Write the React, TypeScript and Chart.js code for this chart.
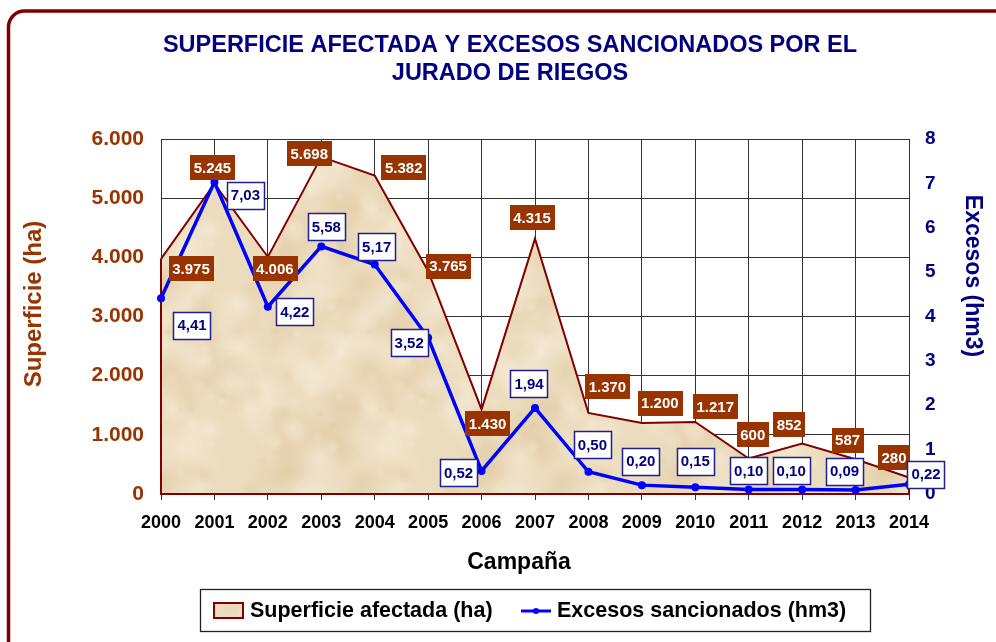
import React, { useEffect, useRef } from "react";
import { Chart, registerables } from "chart.js";

Chart.register(...registerables);

const years = ["2000", "2001", "2002", "2003", "2004", "2005", "2006", "2007", "2008", "2009", "2010", "2011", "2012", "2013", "2014"];
const superficieHa = [3975, 5245, 4006, 5698, 5382, 3765, 1430, 4315, 1370, 1200, 1217, 600, 852, 587, 280];
const excesosHm3 = [4.41, 7.03, 4.22, 5.58, 5.17, 3.52, 0.52, 1.94, 0.5, 0.2, 0.15, 0.1, 0.1, 0.09, 0.22];

const titleLines = ["SUPERFICIE AFECTADA Y EXCESOS SANCIONADOS POR EL", "JURADO DE RIEGOS"];
const leftAxisTitle = "Superficie (ha)";
const rightAxisTitle = "Excesos (hm3)";
const xAxisTitle = "Campaña";
const legendLabels = ["Superficie afectada (ha)", "Excesos sancionados (hm3)"];

// label offsets (relative to each point), style only
const areaLabelDx = [30, -2, 7, -12, 29, 20, 6, -3, 19, 18, 20, 4, -13, -8, -15];
const areaLabelDy = [10, -16, 12, -3, -8, -5, 14, -21, -26, -20, -15, -24, -19, -19, -20];
const lineLabelDx = [31, 31, 27, 5, 2, -19, -23, -6, 4, -1, 0, 0, -11, -11, 17];
const lineLabelDy = [27, 13, 5, -20, -18, 5, 2, -24, -27, -24, -26, -19, -19, -19, -10];

const FONT = "'Liberation Sans', Arial, Helvetica, sans-serif";
const BROWN = "#993300";
const NAVY = "#000080";
const DARKRED = "#800000";

function fmtThousands(v: number): string {
  return String(Math.round(v)).replace(/\B(?=(\d{3})+(?!\d))/g, ".");
}
function fmtDec(v: number): string {
  return v.toFixed(2).replace(".", ",");
}

function frac(x: number): number {
  return x - Math.floor(x);
}

function makeParchment(): CanvasPattern | string {
  const S = 200;
  const c = document.createElement("canvas");
  c.width = S;
  c.height = S;
  const g = c.getContext("2d");
  if (!g) return "#ECDCBE";
  g.fillStyle = "#ECDCBE";
  g.fillRect(0, 0, S, S);
  for (let i = 0; i < 140; i++) {
    const x = frac(Math.sin(i * 12.9898 + 1.3) * 43758.5453) * S;
    const y = frac(Math.sin(i * 78.233 + 4.1) * 24634.6345) * S;
    const r = 5 + frac(Math.sin(i * 39.425) * 9631.17) * 22;
    const dark = i % 2 === 0;
    for (const ox of [-S, 0, S]) {
      for (const oy of [-S, 0, S]) {
        const gr = g.createRadialGradient(x + ox, y + oy, 0, x + ox, y + oy, r);
        gr.addColorStop(0, dark ? "rgba(218,194,150,0.28)" : "rgba(248,240,222,0.4)");
        gr.addColorStop(1, dark ? "rgba(218,194,150,0)" : "rgba(248,240,222,0)");
        g.fillStyle = gr;
        g.fillRect(x + ox - r, y + oy - r, r * 2, r * 2);
      }
    }
  }
  const p = g.createPattern(c, "repeat");
  return p || "#ECDCBE";
}

export default function App() {
  const ref = useRef<HTMLCanvasElement | null>(null);

  useEffect(() => {
    const canvas = ref.current;
    if (!canvas) return;
    const parchment = makeParchment();

    const edgePlugin = {
      id: "areaEdges",
      afterDatasetDraw(chart: any, args: any) {
        if (args.index !== 1) return;
        const meta = chart.getDatasetMeta(1);
        const pts = meta.data;
        const ctx = chart.ctx;
        const bottom = chart.scales.y.getPixelForValue(0);
        ctx.save();
        ctx.strokeStyle = DARKRED;
        ctx.lineWidth = 2;
        ctx.beginPath();
        ctx.moveTo(pts[0].x, pts[0].y);
        ctx.lineTo(pts[0].x, bottom);
        ctx.lineTo(pts[pts.length - 1].x, bottom);
        ctx.lineTo(pts[pts.length - 1].x, pts[pts.length - 1].y);
        ctx.stroke();
        ctx.restore();
      },
    };

    const labelPlugin = {
      id: "pointLabels",
      afterDatasetsDraw(chart: any) {
        const ctx = chart.ctx;
        ctx.save();
        ctx.font = `bold 15px ${FONT}`;
        ctx.textAlign = "center";
        ctx.textBaseline = "middle";
        const areaMeta = chart.getDatasetMeta(1);
        areaMeta.data.forEach((pt: any, i: number) => {
          const t = fmtThousands(superficieHa[i]);
          const w = ctx.measureText(t).width + 7;
          const h = 25;
          const cx = pt.x + areaLabelDx[i];
          const cy = pt.y + areaLabelDy[i];
          ctx.fillStyle = BROWN;
          ctx.fillRect(Math.round(cx - w / 2), Math.round(cy - h / 2), Math.round(w), h);
          ctx.fillStyle = "#FFFFFF";
          ctx.fillText(t, cx, cy + 1);
        });
        const lineMeta = chart.getDatasetMeta(0);
        lineMeta.data.forEach((pt: any, i: number) => {
          const t = fmtDec(excesosHm3[i]);
          const w = ctx.measureText(t).width + 8;
          const h = 27;
          const cx = pt.x + lineLabelDx[i];
          const cy = pt.y + lineLabelDy[i];
          const x0 = Math.round(cx - w / 2) + 0.5;
          const y0 = Math.round(cy - h / 2) + 0.5;
          ctx.fillStyle = "#FFFFFF";
          ctx.fillRect(x0, y0, Math.round(w), h);
          ctx.strokeStyle = "#1F1F8F";
          ctx.lineWidth = 1.5;
          ctx.strokeRect(x0, y0, Math.round(w), h);
          ctx.fillStyle = NAVY;
          ctx.fillText(t, cx, cy + 1);
        });
        ctx.restore();
      },
    };

    const decorPlugin = {
      id: "decor",
      afterDraw(chart: any) {
        const ctx = chart.ctx;
        ctx.save();
        // outer rounded frame
        ctx.strokeStyle = DARKRED;
        ctx.lineWidth = 3.5;
        ctx.beginPath();
        (ctx as any).roundRect(8.5, 11, 1010, 660, 16);
        ctx.stroke();

        // title
        ctx.fillStyle = NAVY;
        ctx.font = `bold 23.5px ${FONT}`;
        ctx.textAlign = "center";
        ctx.textBaseline = "middle";
        ctx.fillText(titleLines[0], 510, 46);
        ctx.fillText(titleLines[1], 510, 74);

        // axis titles
        ctx.fillStyle = BROWN;
        ctx.font = `bold 24px ${FONT}`;
        ctx.save();
        ctx.translate(34, 304);
        ctx.rotate(-Math.PI / 2);
        ctx.fillText(leftAxisTitle, 0, 0);
        ctx.restore();

        ctx.fillStyle = NAVY;
        ctx.font = `bold 23px ${FONT}`;
        ctx.save();
        ctx.translate(972, 276);
        ctx.rotate(Math.PI / 2);
        ctx.fillText(rightAxisTitle, 0, 0);
        ctx.restore();

        ctx.fillStyle = "#000000";
        ctx.font = `bold 23px ${FONT}`;
        ctx.fillText(xAxisTitle, 519, 563);

        // legend
        ctx.fillStyle = "#FFFFFF";
        ctx.fillRect(200, 589, 670, 42);
        ctx.strokeStyle = "#222222";
        ctx.lineWidth = 1.3;
        ctx.strokeRect(200.5, 589.5, 670, 42);

        ctx.fillStyle = parchment as any;
        ctx.fillRect(214, 603, 29, 15);
        ctx.strokeStyle = DARKRED;
        ctx.lineWidth = 2;
        ctx.strokeRect(214, 603, 29, 15);

        ctx.fillStyle = "#000000";
        ctx.font = `bold 21.5px ${FONT}`;
        ctx.textAlign = "left";
        ctx.fillText(legendLabels[0], 250, 611);

        ctx.strokeStyle = "#0000FF";
        ctx.lineWidth = 3;
        ctx.beginPath();
        ctx.moveTo(521, 611);
        ctx.lineTo(551, 611);
        ctx.stroke();
        ctx.fillStyle = "#0000FF";
        ctx.beginPath();
        ctx.arc(536, 611, 3, 0, Math.PI * 2);
        ctx.fill();

        ctx.fillStyle = "#000000";
        ctx.fillText(legendLabels[1], 557, 611);
        ctx.restore();
      },
    };

    const chart = new Chart(canvas, {
      type: "line",
      data: {
        labels: years,
        datasets: [
          {
            label: legendLabels[1],
            data: excesosHm3,
            yAxisID: "y1",
            borderColor: "#0000FF",
            backgroundColor: "#0000FF",
            borderWidth: 3.5,
            pointRadius: 4,
            pointBackgroundColor: "#0000FF",
            pointBorderColor: "#0000FF",
            pointBorderWidth: 0,
            tension: 0,
            fill: false,
            clip: false as any,
            order: 0,
          },
          {
            label: legendLabels[0],
            data: superficieHa,
            yAxisID: "y",
            borderColor: DARKRED,
            backgroundColor: parchment as any,
            borderWidth: 2,
            pointRadius: 0,
            tension: 0,
            fill: "origin",
            order: 1,
          },
        ],
      },
      options: {
        responsive: false,
        animation: false,
        layout: { padding: { top: 139, left: 0, right: 0, bottom: 0 } },
        plugins: {
          legend: { display: false },
          title: { display: false },
          tooltip: { enabled: false },
        },
        scales: {
          x: {
            type: "category",
            offset: false,
            grid: { color: "#333333", lineWidth: 1, drawTicks: true, tickLength: 6 },
            border: { color: "#333333" },
            ticks: {
              color: "#000000",
              font: { family: FONT, size: 18, weight: "bold" },
              padding: 12,
              maxRotation: 0,
              autoSkip: false,
            },
            afterFit: (s: any) => {
              s.height = 148;
            },
          },
          y: {
            position: "left",
            min: 0,
            max: 6000,
            ticks: {
              stepSize: 1000,
              color: BROWN,
              font: { family: FONT, size: 21, weight: "bold" },
              padding: 17,
              callback: (v: any) => fmtThousands(Number(v)),
            },
            grid: { color: "#333333", lineWidth: 1, drawTicks: false },
            border: { color: "#333333" },
            afterFit: (s: any) => {
              s.width = 161;
            },
          },
          y1: {
            position: "right",
            min: 0,
            max: 8,
            ticks: {
              stepSize: 1,
              color: NAVY,
              font: { family: FONT, size: 19, weight: "bold" },
              padding: 16,
            },
            grid: { display: false, drawOnChartArea: false, drawTicks: false },
            border: { display: true, color: "#333333" },
            afterFit: (s: any) => {
              s.width = 87;
            },
          },
        },
      } as any,
      plugins: [edgePlugin, labelPlugin, decorPlugin],
    });

    return () => {
      chart.destroy();
    };
  }, []);

  return (
    <div style={{ position: "absolute", left: 0, top: 0, width: 996, height: 642, background: "#FFFFFF" }}>
      <canvas ref={ref} width={996} height={642} style={{ display: "block", width: 996, height: 642 }} />
    </div>
  );
}
